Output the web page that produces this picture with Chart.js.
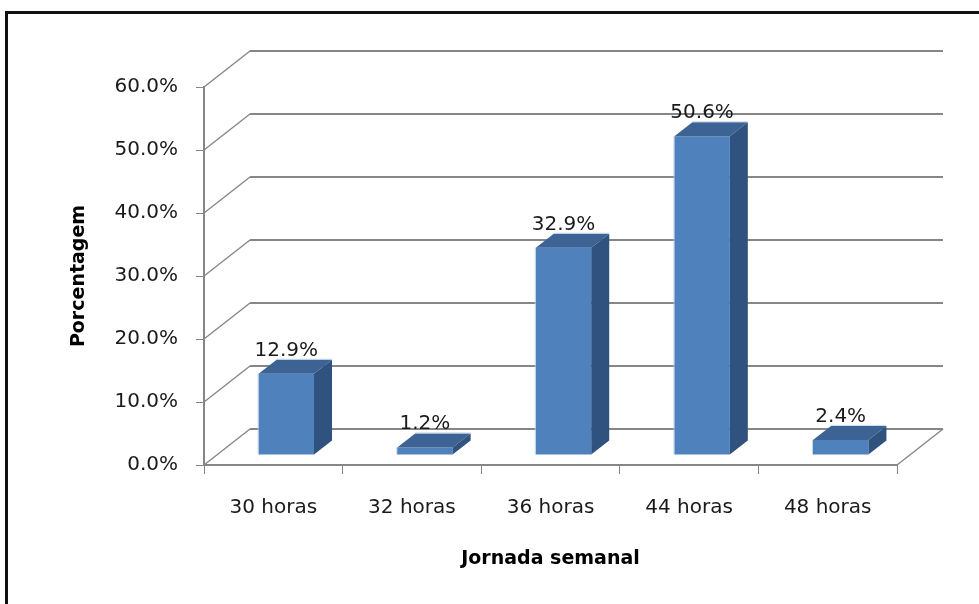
<!DOCTYPE html>
<html lang="pt">
<head>
<meta charset="utf-8">
<title>Jornada semanal</title>
<script src="https://cdn.jsdelivr.net/npm/chart.js@4.4.1/dist/chart.umd.min.js"></script>
<style>
  html, body { margin: 0; padding: 0; background: #fff; overflow: hidden; }
  #moldura { position: absolute; left: 5px; top: 11px; width: 1100px; height: 800px;
             border: 3px solid #111; box-sizing: border-box; }
  #grafico { position: absolute; left: 0; top: 0; }
</style>
</head>
<body>
<div id="moldura"></div>
<canvas id="grafico" width="979" height="604"></canvas>
<script>
/* Jornada semanal – colunas 3D */
const categorias  = ['30 horas', '32 horas', '36 horas', '44 horas', '48 horas'];
const percentuais = [12.9, 1.2, 32.9, 50.6, 2.4];
const marcasY     = [0, 10, 20, 30, 40, 50, 60];

const FONTE  = "'DejaVu Sans', sans-serif";
const CINZA  = '#868686';
const PAREDE = { dx: 46, dy: -36 };   // fundo do gráfico
const PLANO  = { dx: 13, dy: -10 };   // face da frente das colunas
const CUBO   = { dx: 18, dy: -14 };   // espessura das colunas

const efeito3d = {
  id: 'efeito3d',
  beforeDatasetsDraw(chart) {
    const { ctx, chartArea: a, scales: { y } } = chart;
    ctx.save();
    ctx.strokeStyle = CINZA;
    y.ticks.forEach(t => {
      const py = y.getPixelForValue(t.value);
      // diagonal da parede lateral
      ctx.lineWidth = 1.4;
      ctx.beginPath();
      ctx.moveTo(a.left, py);
      ctx.lineTo(a.left + PAREDE.dx, py + PAREDE.dy);
      ctx.stroke();
      // linha de grade no fundo
      ctx.lineWidth = 2;
      ctx.beginPath();
      ctx.moveTo(a.left + PAREDE.dx, py + PAREDE.dy);
      ctx.lineTo(a.right + PAREDE.dx, py + PAREDE.dy);
      ctx.stroke();
    });
    // canto direito do piso
    const chao = y.getPixelForValue(0);
    ctx.lineWidth = 1.4;
    ctx.beginPath();
    ctx.moveTo(a.right, chao);
    ctx.lineTo(a.right + PAREDE.dx, chao + PAREDE.dy);
    ctx.stroke();
    ctx.restore();

    // as colunas ficam um pouco para dentro do piso
    ctx.save();
    ctx.translate(PLANO.dx, PLANO.dy);
  },
  afterDatasetsDraw(chart) {
    const { ctx } = chart;
    chart.getDatasetMeta(0).data.forEach((bar, i) => {
      const { x, y, base, width } = bar.getProps(['x', 'y', 'base', 'width'], true);
      const l = x - width / 2, r = x + width / 2;

      ctx.fillStyle = '#3D6394';          // topo
      ctx.beginPath();
      ctx.moveTo(l, y);
      ctx.lineTo(l + CUBO.dx, y + CUBO.dy);
      ctx.lineTo(r + CUBO.dx, y + CUBO.dy);
      ctx.lineTo(r, y);
      ctx.closePath();
      ctx.fill();

      ctx.fillStyle = '#30527F';          // lateral
      ctx.beginPath();
      ctx.moveTo(r, y);
      ctx.lineTo(r + CUBO.dx, y + CUBO.dy);
      ctx.lineTo(r + CUBO.dx, base + CUBO.dy);
      ctx.lineTo(r, base);
      ctx.closePath();
      ctx.fill();

      // brilho fino nas arestas
      ctx.strokeStyle = 'rgba(185,205,229,0.8)';
      ctx.lineWidth = 1;
      ctx.beginPath();
      ctx.moveTo(l - 0.5, base);
      ctx.lineTo(l - 0.5, y);
      ctx.moveTo(l + CUBO.dx, y + CUBO.dy - 0.5);
      ctx.lineTo(r + CUBO.dx, y + CUBO.dy - 0.5);
      ctx.stroke();

      ctx.fillStyle = '#1a1a1a';
      ctx.font = '20px ' + FONTE;
      ctx.textAlign = 'center';
      ctx.textBaseline = 'alphabetic';
      ctx.fillText(percentuais[i].toFixed(1) + '%', x, y + CUBO.dy - 4);
    });
    ctx.restore();
  }
};

new Chart(document.getElementById('grafico'), {
  type: 'bar',
  data: {
    labels: categorias,
    datasets: [{
      data: percentuais,
      backgroundColor: '#4F81BD',
      borderWidth: 0,
      categoryPercentage: 1,
      barPercentage: 0.4,
      clip: false
    }]
  },
  options: {
    responsive: false,
    devicePixelRatio: 1,
    animation: false,
    layout: { padding: { left: 0, top: 87, right: 82, bottom: 0 } },
    plugins: { legend: { display: false }, tooltip: { enabled: false } },
    scales: {
      x: {
        grid: { drawOnChartArea: false, tickLength: 9, color: CINZA, offset: true },
        border: { color: CINZA, width: 2 },
        ticks: { font: { family: FONTE, size: 20 }, color: '#1a1a1a', padding: 22 },
        title: { display: true, text: 'Jornada semanal', color: '#000',
                 font: { family: FONTE, size: 19, weight: 'bold' },
                 padding: { top: 0, bottom: 34 } },
        afterFit(s) { s.height = 139; }
      },
      y: {
        min: 0,
        max: 60,
        afterBuildTicks(s) { s.ticks = marcasY.map(v => ({ value: v })); },
        grid: { drawOnChartArea: false, tickLength: 8, color: CINZA },
        border: { color: CINZA, width: 2 },
        ticks: { font: { family: FONTE, size: 20 }, color: '#1a1a1a', padding: 18,
                 callback: v => v.toFixed(1) + '%' },
        title: { display: true, text: 'Porcentagem', color: '#000',
                 font: { family: FONTE, size: 19, weight: 'bold' },
                 padding: { top: 68, bottom: 0 } },
        afterFit(s) { s.width = 204; }
      }
    }
  },
  plugins: [efeito3d]
});
</script>
</body>
</html>
